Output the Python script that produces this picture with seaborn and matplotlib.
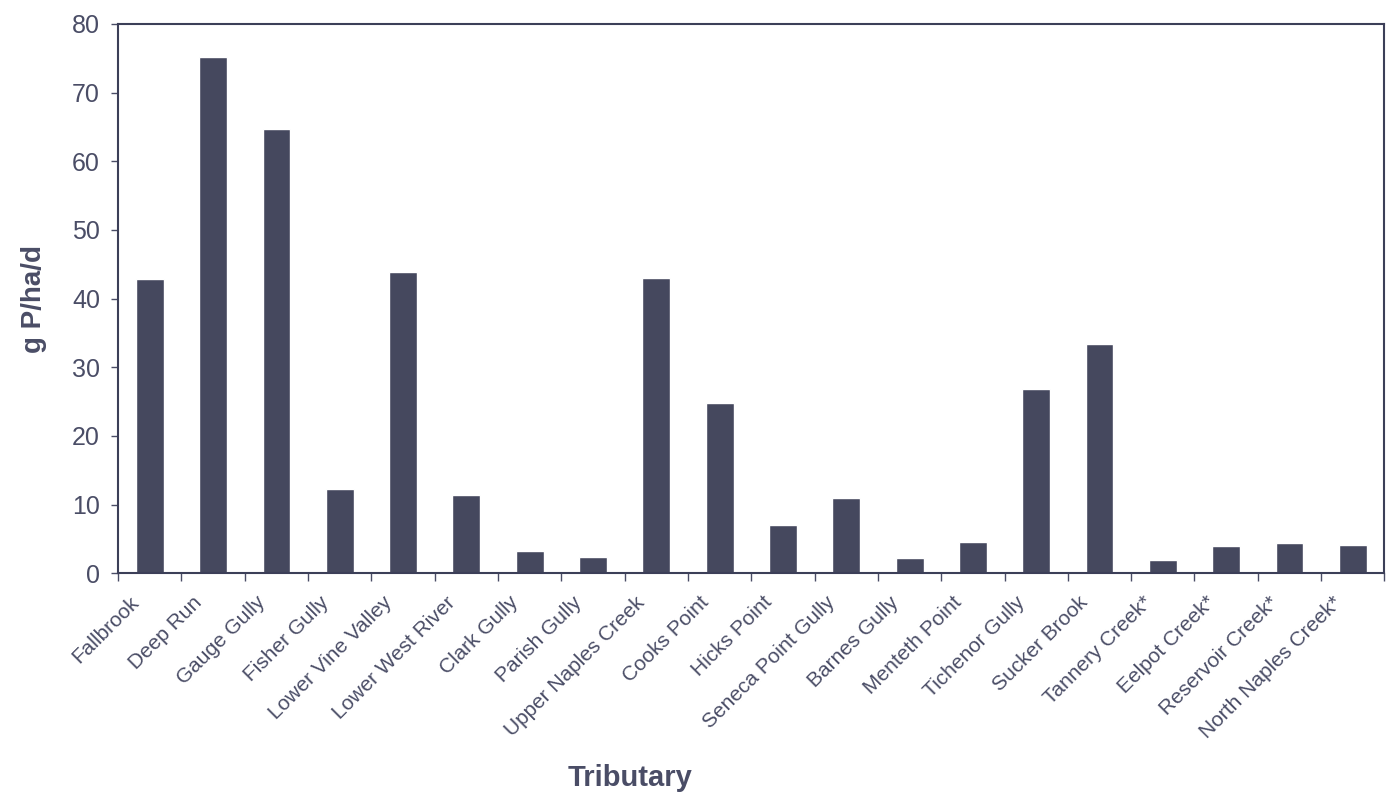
import matplotlib.pyplot as plt
import numpy as np
import seaborn as sns
import pandas as pd

tributaries = ["Fallbrook", "Deep Run", "Gauge Gully", "Fisher Gully", "Lower Vine Valley",
               "Lower West River", "Clark Gully", "Parish Gully", "Upper Naples Creek",
               "Cooks Point", "Hicks Point", "Seneca Point Gully", "Barnes Gully",
               "Menteth Point", "Tichenor Gully", "Sucker Brook", "Tannery Creek*",
               "Eelpot Creek*", "Reservoir Creek*", "North Naples Creek*"]
load = [42.9, 75.2, 64.7, 12.2, 43.9, 11.4, 3.2, 2.3, 43.0, 24.8,
        7.1, 10.9, 2.2, 4.5, 26.8, 33.4, 1.9, 3.9, 4.4, 4.1]

sns.set_style("white")
plt.rcParams['font.family'] = ['Liberation Sans', 'DejaVu Sans']
txt_color = '#4a4d66'
bar_color = '#45485e'

df = pd.DataFrame({'trib': tributaries, 'load': load})

fig = plt.figure(figsize=(13.9, 7.94), dpi=100)
axs = fig.add_axes([0.085, 0.278, 0.911, 0.692])
sns.barplot(data=df, x='trib', y='load', color=bar_color, saturation=1, width=0.44, ax=axs)

n = len(tributaries)
axs.set_xlim(-0.5, n - 0.5)
axs.set_ylim(0, 80)
axs.set_yticks(np.arange(0, 81, 10))
# label anchors sit a little left of the bars, like the original
axs.set_xticks(np.arange(n) - 0.33)
axs.set_xticklabels(tributaries, rotation=45, ha='right', rotation_mode='anchor',
                    fontsize=15, color=txt_color)
axs.set_xticks(np.arange(n + 1) - 0.5, minor=True)
axs.tick_params(axis='x', which='major', length=0, pad=14)
axs.tick_params(axis='x', which='minor', length=6, width=1, direction='out', color=txt_color, bottom=True)
axs.tick_params(axis='y', length=5, width=1, direction='out', color=txt_color, left=True,
                labelsize=18, labelcolor=txt_color, pad=8)

for s in axs.spines.values():
    s.set_color('#3c3f58')
    s.set_linewidth(1.5)

axs.set_xlabel("")
axs.set_ylabel("g P/ha/d", fontsize=20, fontweight='bold', color=txt_color, labelpad=18)
fig.text(0.453, 0.003, "Tributary", fontsize=21, fontweight='bold', color=txt_color,
         ha='center', va='bottom')

plt.savefig("out.png", dpi=100)
